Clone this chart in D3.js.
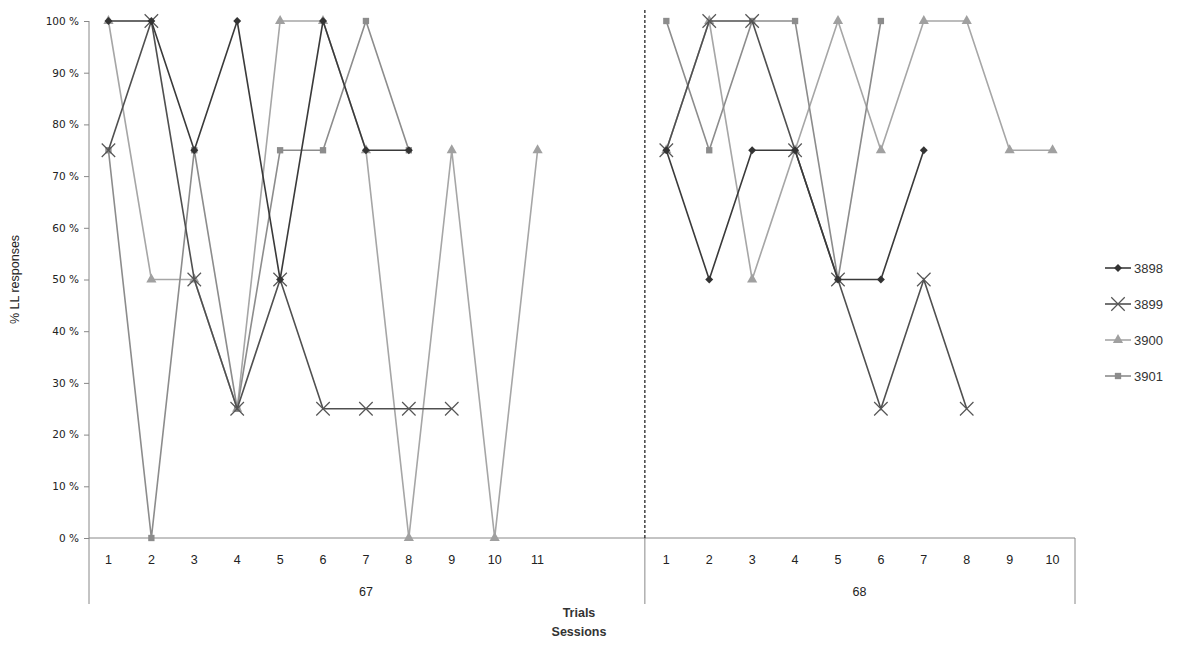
<!DOCTYPE html>
<html>
<head>
<meta charset="utf-8">
<script src="https://cdn.jsdelivr.net/npm/d3@7"></script>
<style>
  body { margin: 0; background: #fff; }
  text { font-family: "Liberation Sans Narrow", "Liberation Sans", sans-serif; fill: #222; }
</style>
</head>
<body>
<svg id="chart" width="1184" height="650"></svg>
<script>
const sessions = ['67', '68']
const trials67 = ['1', '2', '3', '4', '5', '6', '7', '8', '9', '10', '11', '', '']
const trials68 = ['1', '2', '3', '4', '5', '6', '7', '8', '9', '10']
const yTicks = [0, 0.1, 0.2, 0.3, 0.4, 0.5, 0.6, 0.7, 0.8, 0.9, 1]

// % LL responses per trial, null where no trial was run
const s3898_67 = [1, 1, 0.75, 1, 0.5, 1, 0.75, 0.75, null, null, null, null, null]
const s3899_67 = [0.75, 1, 0.5, 0.25, 0.5, 0.25, 0.25, 0.25, 0.25, null, null, null, null]
const s3900_67 = [1, 0.5, 0.5, 0.25, 1, 1, 0.75, 0, 0.75, 0, 0.75, null, null]
const s3901_67 = [0.75, 0, 0.75, 0.25, 0.75, 0.75, 1, 0.75, null, null, null, null, null]

const s3898_68 = [0.75, 0.5, 0.75, 0.75, 0.5, 0.5, 0.75, null, null, null]
const s3899_68 = [0.75, 1, 1, 0.75, 0.5, 0.25, 0.5, 0.25, null, null]
const s3900_68 = [0.75, 1, 0.5, 0.75, 1, 0.75, 1, 1, 0.75, 0.75]
const s3901_68 = [1, 0.75, 1, 1, 0.5, 1, null, null, null, null]

const seriesNames = ['3898', '3899', '3900', '3901']
const values67 = [s3898_67, s3899_67, s3900_67, s3901_67]
const values68 = [s3898_68, s3899_68, s3900_68, s3901_68]

const lineColor = { '3898': '#3a3a3a', '3899': '#505050', '3900': '#a6a6a6', '3901': '#8c8c8c' }
const markColor = { '3898': '#333', '3899': '#555', '3900': '#a0a0a0', '3901': '#8c8c8c' }

const svg = d3.select('#chart')
const plotLeft = 87, plotRight = 1074, plotTop = 21, plotBottom = 538, axisFoot = 604

const keys = []
trials67.forEach((t, i) => keys.push('67-' + i))
trials68.forEach((t, i) => keys.push('68-' + i))

const x = d3.scaleBand().domain(keys).range([plotLeft, plotRight])
const y = d3.scaleLinear().domain([0, 1]).range([plotBottom, plotTop])
const cx = k => x(k) + x.bandwidth() / 2

// y axis
const yAxis = svg.append('g')
  .attr('transform', `translate(${plotLeft + 2},0)`)
  .call(d3.axisLeft(y).tickValues(yTicks).tickSize(5).tickFormat(d => Math.round(d * 100) + ' %'))
yAxis.select('.domain').remove()
yAxis.selectAll('line').attr('stroke', '#888')
yAxis.selectAll('text')
  .style('font-family', '"DejaVu Sans", sans-serif')
  .style('font-size', '10.5px')
  .style('fill', '#222')
  .attr('x', -10)
svg.append('line')
  .attr('x1', plotLeft + 2).attr('x2', plotLeft + 2)
  .attr('y1', plotTop).attr('y2', axisFoot)
  .attr('stroke', '#888')

svg.append('text')
  .attr('transform', `translate(19,${(plotTop + plotBottom) / 2}) rotate(-90)`)
  .attr('text-anchor', 'middle')
  .style('font-size', '12.5px')
  .style('fill', '#222')
  .text('% LL responses')

// x axis (two level categories)
svg.append('line')
  .attr('x1', plotLeft + 2).attr('x2', plotRight + 1)
  .attr('y1', plotBottom).attr('y2', plotBottom)
  .attr('stroke', '#888')

const sep = x('68-0')
;[sep, plotRight + 1].forEach(xx => {
  svg.append('line')
    .attr('x1', xx).attr('x2', xx)
    .attr('y1', plotBottom).attr('y2', axisFoot)
    .attr('stroke', '#888')
})

const trialLabels = trials67.map((t, i) => ({ k: '67-' + i, t }))
  .concat(trials68.map((t, i) => ({ k: '68-' + i, t })))
svg.append('g').selectAll('text')
  .data(trialLabels)
  .join('text')
  .attr('x', d => cx(d.k))
  .attr('y', 564)
  .attr('text-anchor', 'middle')
  .style('font-size', '12.5px')
  .style('fill', '#222')
  .text(d => d.t)

svg.append('g').selectAll('text')
  .data(sessions)
  .join('text')
  .attr('x', (s, i) => i === 0 ? (plotLeft + sep) / 2 : (sep + plotRight) / 2)
  .attr('y', 596)
  .attr('text-anchor', 'middle')
  .style('font-size', '12.5px')
  .style('fill', '#222')
  .text(d => d)

svg.append('text').attr('x', 579).attr('y', 617).attr('text-anchor', 'middle')
  .style('font-size', '12.5px').style('font-weight', 'bold').style('fill', '#333').text('Trials')
svg.append('text').attr('x', 579).attr('y', 636).attr('text-anchor', 'middle')
  .style('font-size', '12.5px').style('font-weight', 'bold').style('fill', '#333').text('Sessions')

// session divider
svg.append('line')
  .attr('x1', sep).attr('x2', sep)
  .attr('y1', 10).attr('y2', plotBottom)
  .attr('stroke', '#111')
  .attr('stroke-width', 1.2)
  .attr('stroke-dasharray', '3,2')

// markers
const symbolOf = {
  '3898': d3.symbol().type(d3.symbolDiamond2).size(40),
  '3899': d3.symbol().type(d3.symbolX).size(120),
  '3900': d3.symbol().type(d3.symbolTriangle).size(45),
  '3901': d3.symbol().type(d3.symbolSquare).size(40)
}

function drawMark(g, name, px, py) {
  const p = g.append('path')
    .attr('transform', `translate(${px},${py})`)
    .attr('d', symbolOf[name]())
  if (name === '3899') {
    p.attr('fill', 'none').attr('stroke', markColor[name]).attr('stroke-width', 1.2)
  } else {
    p.attr('fill', markColor[name])
  }
}

const line = d3.line()
  .defined(d => d.v != null)
  .x(d => cx(d.k))
  .y(d => y(d.v))

const plot = svg.append('g')
const order = [2, 3, 1, 0]
order.forEach(si => {
  const name = seriesNames[si]
  ;[['67', values67[si]], ['68', values68[si]]].forEach(([s, vals]) => {
    const pts = vals.map((v, i) => ({ k: s + '-' + i, v }))
    plot.append('path')
      .datum(pts)
      .attr('d', line)
      .attr('fill', 'none')
      .attr('stroke', lineColor[name])
      .attr('stroke-width', 1.6)
    pts.filter(d => d.v != null).forEach(d => drawMark(plot, name, cx(d.k), y(d.v)))
  })
})

// legend
const legend = svg.append('g')
seriesNames.forEach((name, i) => {
  const ly = 268 + i * 36
  legend.append('line')
    .attr('x1', 1105).attr('x2', 1131)
    .attr('y1', ly).attr('y2', ly)
    .attr('stroke', lineColor[name]).attr('stroke-width', 1.6)
  drawMark(legend, name, 1118, ly)
  legend.append('text')
    .attr('x', 1134).attr('y', ly + 4.5)
    .style('font-size', '13px')
    .style('fill', '#333')
    .text(name)
})
</script>
</body>
</html>
